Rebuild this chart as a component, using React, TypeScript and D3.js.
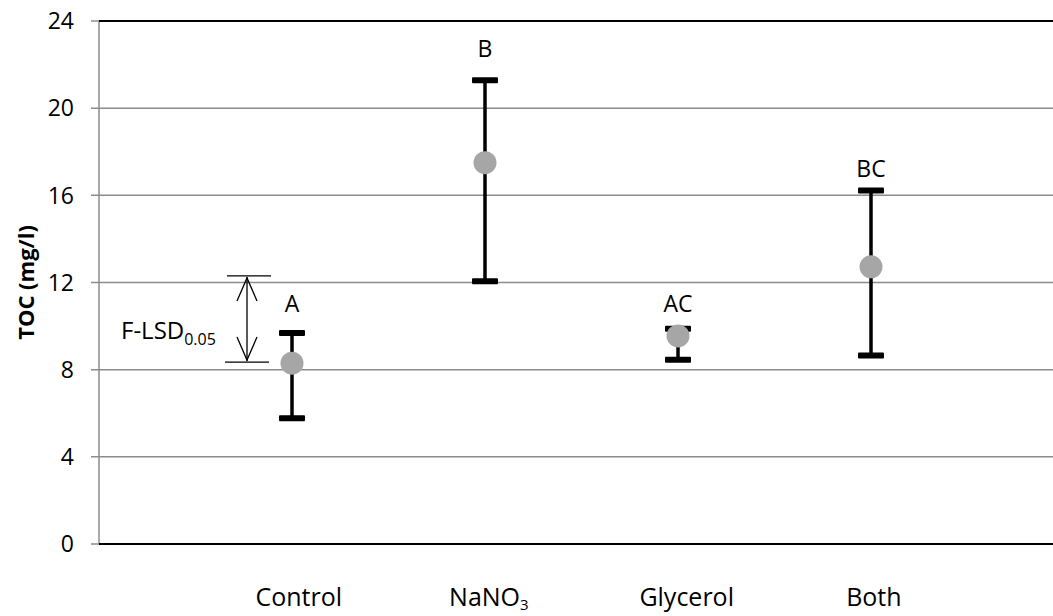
import React from "react";
import * as d3 from "d3";

const categories = ["Control", "NaNO3", "Glycerol", "Both"];
const categoryPos = [1, 2, 3, 4];
const means = [8.3, 17.5, 9.55, 12.72];
const upper = [9.68, 21.28, 9.88, 16.22];
const lower = [5.77, 12.06, 8.45, 8.65];
const letters = ["A", "B", "AC", "BC"];
const letterValues = [10.65, 22.35, 10.65, 16.84];
const labelX = [1.035, 2.02, 3.045, 4.015];
const yTicks = [0, 4, 8, 12, 16, 20, 24];
const lsdTop = 12.3;
const lsdBottom = 8.35;

const W = 1053;
const H = 616;
const FONT = "'Open Sans', 'Noto Sans', sans-serif";
const FS = 23;

export default function App() {
  const x = d3.scaleLinear().domain([0, 5]).range([99, 1064]);
  const y = d3.scaleLinear().domain([0, 24]).range([544, 21]);
  const capW = 26;
  const capH = 6;
  const lsdX = 247;

  return (
    <svg width={W} height={H} style={{ position: "absolute", left: 0, top: 0, background: "#fff" }} fontFamily={FONT}>
      <rect width={W} height={H} fill="#fff" />
      {yTicks.map((t) => (
        <g key={t}>
          <line x1={91} x2={W} y1={y(t)} y2={y(t)} stroke="#8c8c8c" strokeWidth={1.5} />
          <text x={74} y={y(t)} dy="0.36em" textAnchor="end" fontSize={FS} fill="#000">
            {t}
          </text>
        </g>
      ))}
      <line x1={99} x2={99} y1={y(24)} y2={y(0)} stroke="#8c8c8c" strokeWidth={1.5} />
      <line x1={99} x2={W} y1={y(24)} y2={y(24)} stroke="#000" strokeWidth={2} />
      <line x1={99} x2={W} y1={y(0)} y2={y(0)} stroke="#000" strokeWidth={2} />

      <text
        transform={`translate(34,${(y(24) + y(0)) / 2}) rotate(-90)`}
        textAnchor="middle"
        fontSize={22}
        fontWeight="bold"
      >
        TOC (mg/l)
      </text>

      {categoryPos.map((c, i) => (
        <g key={"eb" + i}>
          <line x1={x(c)} x2={x(c)} y1={y(upper[i])} y2={y(lower[i])} stroke="#000" strokeWidth={3.5} />
          <rect x={x(c) - capW / 2} y={y(upper[i]) - capH / 2} width={capW} height={capH} fill="#000" rx={1} />
          <rect x={x(c) - capW / 2} y={y(lower[i]) - capH / 2} width={capW} height={capH} fill="#000" rx={1} />
        </g>
      ))}
      {categoryPos.map((c, i) => (
        <circle key={"m" + i} cx={x(c)} cy={y(means[i])} r={11.5} fill="#a6a6a6" />
      ))}
      {categoryPos.map((c, i) => (
        <text key={"l" + i} x={x(c)} y={y(letterValues[i])} textAnchor="middle" fontSize={FS}>
          {letters[i]}
        </text>
      ))}

      {categories.map((cat, i) => (
        <text key={"c" + i} x={x(labelX[i])} y={606} textAnchor="middle" fontSize={25}>
          {cat === "NaNO3" ? (
            <>
              NaNO<tspan fontSize={15} dy={4}>3</tspan>
            </>
          ) : (
            cat
          )}
        </text>
      ))}

      <line x1={227} x2={271} y1={y(lsdTop)} y2={y(lsdTop)} stroke="#000" strokeWidth={1.3} />
      <line x1={225} x2={269} y1={y(lsdBottom)} y2={y(lsdBottom)} stroke="#000" strokeWidth={1.3} />
      <line x1={lsdX} x2={lsdX} y1={y(lsdTop) + 1} y2={y(lsdBottom) - 1} stroke="#000" strokeWidth={1.3} />
      <polyline
        points={`${lsdX - 10},${y(lsdTop) + 25} ${lsdX},${y(lsdTop) + 2} ${lsdX + 10},${y(lsdTop) + 25}`}
        fill="none"
        stroke="#000"
        strokeWidth={1.3}
      />
      <polyline
        points={`${lsdX - 10},${y(lsdBottom) - 25} ${lsdX},${y(lsdBottom) - 2} ${lsdX + 10},${y(lsdBottom) - 25}`}
        fill="none"
        stroke="#000"
        strokeWidth={1.3}
      />
      <text x={121} y={339} fontSize={24}>
        F-LSD<tspan fontSize={16} dy={6}>0.05</tspan>
      </text>
    </svg>
  );
}
